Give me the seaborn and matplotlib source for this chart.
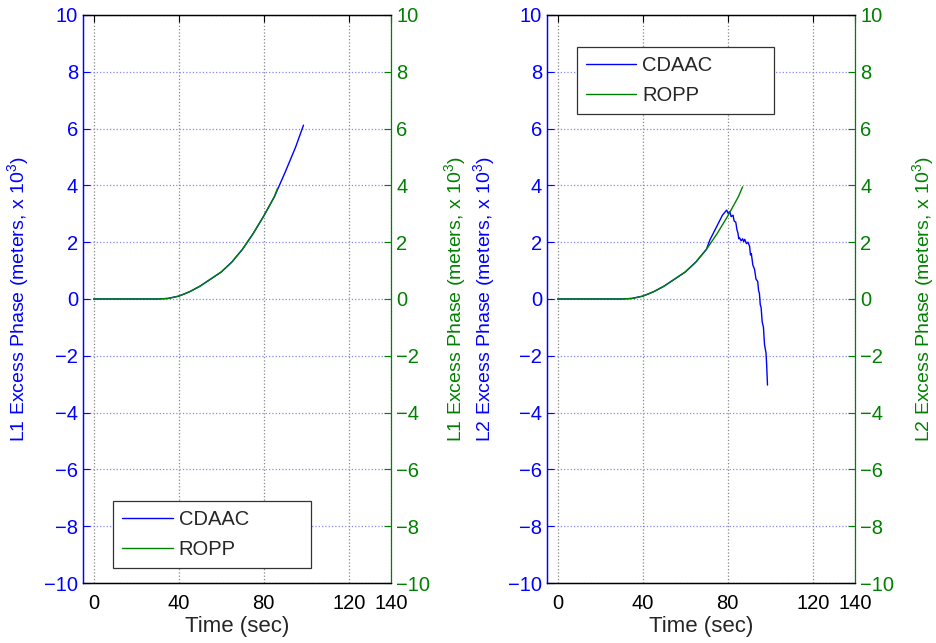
import numpy as np
import pandas as pd
import seaborn as sns
import matplotlib.pyplot as plt

# Data (x 10^3 meters)
time_l1_cdaac = [0, 10, 20, 30, 35, 40, 45, 50, 55, 60, 65, 70, 75, 80, 85, 90, 95, 98.7]
l1_cdaac = [0, 0, 0, 0, 0.02, 0.1, 0.25, 0.45, 0.7, 0.95, 1.3, 1.75, 2.3, 2.92, 3.6, 4.45, 5.35, 6.12]
time_l1_ropp = [0, 10, 20, 30, 35, 40, 45, 50, 55, 60, 65, 70, 75, 80, 85, 86.5]
l1_ropp = [0, 0, 0, 0, 0.02, 0.1, 0.25, 0.45, 0.7, 0.95, 1.3, 1.75, 2.3, 2.92, 3.6, 3.9]

time_l2_cdaac = [0, 10, 20, 30, 35, 40, 45, 50, 55, 60, 65, 70, 71.6, 74.8, 77.5, 79.5,
                 80.3, 81.0, 81.6, 82.5, 83.0, 83.8, 84.3, 84.8, 85.2, 85.6, 86.3, 87.0,
                 87.5, 88.0, 88.8, 89.5, 90.3, 90.7, 91.1, 91.8, 92.6, 93.3, 94.1, 94.5,
                 94.9, 95.3, 95.7, 96.2, 96.8, 97.3, 98.0, 98.3, 98.7]
l2_cdaac = [0, 0, 0, 0, 0.02, 0.1, 0.25, 0.45, 0.7, 0.95, 1.3, 1.75, 2.08, 2.55, 2.95, 3.13,
            3.0, 3.08, 2.9, 2.95, 2.75, 2.7, 2.45, 2.32, 2.12, 2.15, 2.05, 2.12,
            2.02, 2.1, 1.95, 2.0, 1.85, 1.55, 1.6, 1.2, 1.05, 0.7, 0.62, 0.3,
            0.2, -0.2, -0.3, -0.8, -1.0, -1.6, -1.9, -2.3, -3.03]
time_l2_ropp = [0, 10, 20, 30, 35, 40, 45, 50, 55, 60, 65, 70, 75, 80, 85, 87]
l2_ropp = [0, 0, 0, 0, 0.02, 0.1, 0.25, 0.45, 0.7, 0.95, 1.3, 1.75, 2.3, 2.92, 3.6, 3.95]

yticks = list(range(-10, 11, 2))
xticks = [0, 40, 80, 120, 140]

BLUE = "#0000ff"
GREEN = "#008000"

sns.set_style("white")
plt.rcParams["font.family"] = ["Liberation Sans", "DejaVu Sans"]
plt.rcParams["mathtext.fontset"] = "custom"
plt.rcParams["mathtext.rm"] = "Liberation Sans"

fig = plt.figure(figsize=(9.37, 6.43), dpi=100)

# left edge, data, label prefix, legend placement, label x-positions (axes fraction)
panels = [
    (0.0886, time_l1_cdaac, l1_cdaac, time_l1_ropp, l1_ropp, "L1",
     "lower left", (0.098, 0.026, 0.642, 0.5), -0.166, 1.165),
    (0.5838, time_l2_cdaac, l2_cdaac, time_l2_ropp, l2_ropp, "L2",
     "upper left", (0.097, 0.0, 0.638, 0.944), -0.160, 1.178),
]

for left, tc, yc, tr, yr, lab, loc, anchor, lx, rx in panels:
    ax = fig.add_axes([left, 0.0933, 0.329, 0.8834])
    ax2 = ax.twinx()

    sns.lineplot(x=tc, y=yc, ax=ax, color=BLUE, linewidth=1.0, label="CDAAC", legend=False)
    sns.lineplot(x=tr, y=yr, ax=ax, color=GREEN, linewidth=1.0, label="ROPP", legend=False)

    for a in (ax, ax2):
        a.set_xlim(-5, 140)
        a.set_ylim(-10, 10)
        a.set_yticks(yticks)
        a.tick_params(direction="in", length=5, labelsize=14.5)
    ax.set_xticks(xticks)
    ax.tick_params(axis="y", colors=BLUE, labelcolor=BLUE)
    ax.tick_params(axis="x", colors="black", pad=8, top=True)
    ax2.tick_params(axis="y", colors=GREEN, labelcolor=GREEN)

    ax.xaxis.grid(True, linestyle=":", color="#888888", linewidth=0.9)
    ax.yaxis.grid(True, linestyle=":", color="#8888ee", linewidth=0.9)

    ax.spines["left"].set_color(BLUE)
    ax2.spines["right"].set_color(GREEN)
    ax2.spines["left"].set_color(BLUE)
    for a in (ax, ax2):
        a.spines["top"].set_color("black")
        a.spines["bottom"].set_color("black")
        for s in a.spines.values():
            s.set_linewidth(0.9)
    ax.spines["right"].set_visible(False)

    ax.set_xlabel("Time (sec)", fontsize=16, labelpad=2)
    ax.set_ylabel(lab + " Excess Phase (meters, x 10$^3$)", fontsize=14, color=BLUE)
    ax2.set_ylabel(lab + " Excess Phase (meters, x 10$^3$)", fontsize=14, color=GREEN)
    ax.yaxis.set_label_coords(lx, 0.5)
    ax2.yaxis.set_label_coords(rx, 0.5)

    leg = ax.legend(loc=loc, bbox_to_anchor=anchor, mode="expand", fontsize=14.5,
                    handlelength=2.5, fancybox=False, framealpha=1, edgecolor="#333333",
                    borderpad=0.45, labelspacing=0.55, handletextpad=0.3, borderaxespad=0)
    leg.get_frame().set_linewidth(0.9)

fig.savefig("out.png", dpi=100)
